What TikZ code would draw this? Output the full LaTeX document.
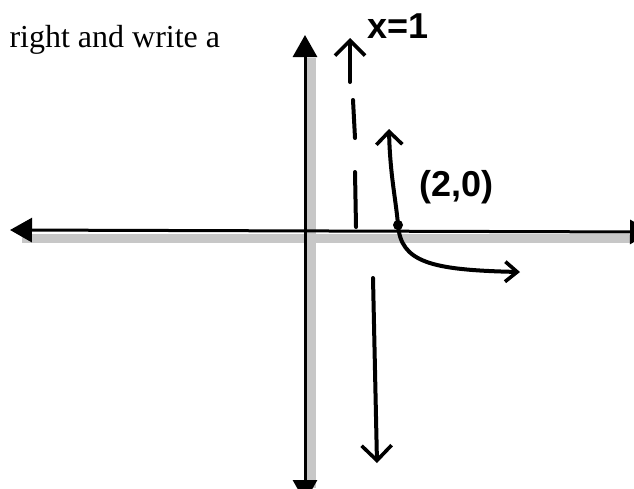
\documentclass[tikz,border=0pt]{standalone}
\usepackage{fontspec}
\setmainfont{Liberation Serif}
\newfontfamily\handfont{Liberation Sans}
\usetikzlibrary{arrows.meta}

\begin{document}
\begin{tikzpicture}[x=1pt, y=-1pt,
  axis/.style={line width=3pt, {Triangle[length=22pt,width=24pt]}-{Triangle[length=22pt,width=24pt]}},
  band/.style={fill=black!22, draw=none},
  pen/.style={line width=4pt, line cap=round, line join=round},
  barb/.style={-{Straight Barb[length=15pt,width=30pt,line width=3.6pt]}},
  hand/.style={font=\handfont\bfseries\fontsize{36}{36}\selectfont}
]
\useasboundingbox (0,0) rectangle (634,488);
\clip (0,0) rectangle (634,488);

\coordinate (ytop) at (305,35);
\coordinate (ybot) at (305,502);
\coordinate (xleft) at (10,230);
\coordinate (xright) at (652,232);

\fill[band] (22,234) rectangle (630,243);
\fill[band] (307,58) rectangle (316,488);
\draw[axis] (xleft) -- (xright);
\draw[axis] (ybot) -- (ytop);

\node[anchor=base west, font=\fontsize{32}{34}\selectfont] (title) at (6,47) {right and write a};

% asymptote x=1
\coordinate (atail) at (350,82);
\coordinate (atip) at (350,38);
\coordinate (dash1a) at (353,100);
\coordinate (dash1b) at (355,138);
\coordinate (dash2a) at (355,172);
\coordinate (dash2b) at (356,227);
\coordinate (dtail) at (373,278);
\coordinate (dtip) at (377,463);
\draw[pen, barb] (atail) -- (atip);
\draw[pen] (dash1a) -- (dash1b);
\draw[pen] (dash2a) -- (dash2b);
\draw[pen, barb] (dtail) -- (dtip);
\node[hand, anchor=west] (asym) at (364,26) {x=1};

% curve through (2,0)
\coordinate (ctop) at (389,129);
\coordinate (pt) at (398,225);
\coordinate (cend) at (520,272);
\draw[pen, {Straight Barb[length=13pt,width=26pt,line width=3.6pt]}-{Straight Barb[length=12pt,width=20pt,line width=3.6pt]}]
  (ctop) .. controls (390,175) and (396,200) .. (pt)
  .. controls (401,262) and (430,270) .. (cend);
\fill (pt) circle (5);
\node[hand, anchor=west] (ptlabel) at (416,187) {(2,0)};
\end{tikzpicture}
\end{document}
